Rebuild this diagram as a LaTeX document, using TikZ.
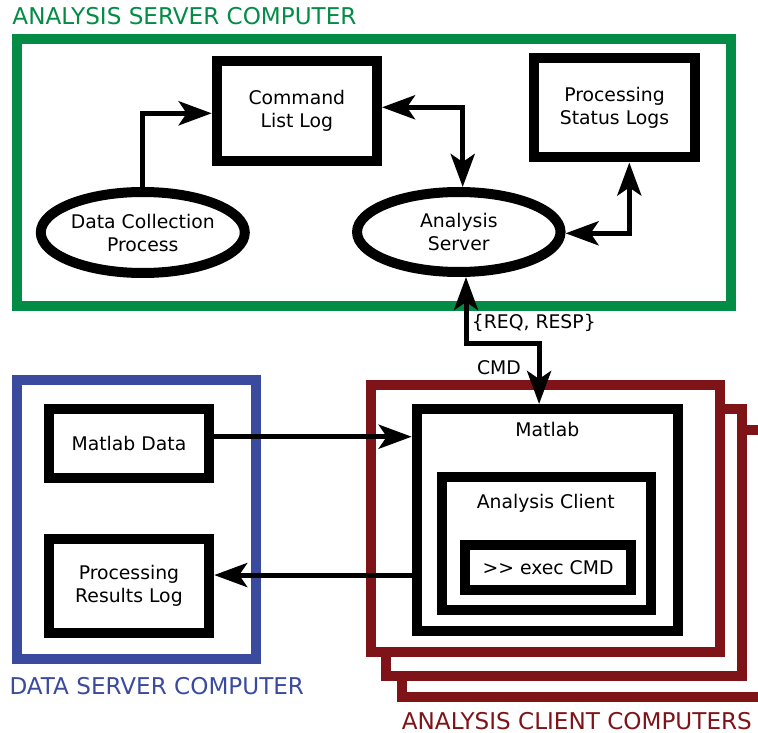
\documentclass[tikz,border=0pt]{standalone}
\usepackage{fontspec}
\setmainfont{DejaVu Sans}
\usetikzlibrary{arrows.meta,shapes.geometric}
\definecolor{srvgreen}{RGB}{3,140,69}
\definecolor{dsblue}{RGB}{58,74,158}
\definecolor{clred}{RGB}{127,20,24}
\tikzset{
  tipshape/.tip={Stealth[length=33pt,width=24pt,inset=8pt]},
}
\begin{document}
\begin{tikzpicture}[x=1pt,y=-1pt,
  box/.style={draw, line width=10pt, rectangle, inner sep=0pt, align=center,
    font=\fontsize{18.8}{23}\selectfont, fill=white},
  oval/.style={draw, line width=10pt, ellipse, inner sep=0pt, align=center,
    font=\fontsize{18.8}{23}\selectfont, fill=white},
  lbl/.style={inner sep=0pt, font=\fontsize{18.8}{23}\selectfont},
  ttl/.style={inner sep=0pt, anchor=west, font=\fontsize{23.1}{27}\selectfont},
  frm/.style={line width=10pt},
  arr/.style={line width=5pt, -{tipshape}},
  arrtwo/.style={line width=5pt, {tipshape}-{tipshape}},
]
\useasboundingbox (0,0) rectangle (758,733);
\clip (0,0) rectangle (758,733);

% frames
\draw[frm, srvgreen] (16.7,38.7) rectangle (731,306);
\draw[frm, dsblue] (17,380.3) rectangle (256.3,658.7);
\draw[frm, clred, fill=white] (401.7,430) rectangle (775,697.3);
\draw[frm, clred, fill=white] (385.7,409) rectangle (742.3,675.7);
\draw[frm, clred, fill=white] (371.3,385) rectangle (720,651.7);

% titles
\node[ttl, text=srvgreen] (t1) at (12.3,15.7) {ANALYSIS SERVER COMPUTER};
\node[ttl, text=dsblue] (t2) at (9.3,686) {DATA SERVER COMPUTER};
\node[ttl, text=clred] (t3) at (401.7,721.5) {ANALYSIS CLIENT COMPUTERS};

% server nodes
\node[box, minimum width=160.3pt, minimum height=100pt] (cmd) at (296.85,111) {Command\\List Log};
\node[box, minimum width=161pt, minimum height=99.2pt] (psl) at (614.5,107.9) {Processing\\Status Logs};
\node[oval, minimum width=204pt, minimum height=81pt] (dcp) at (142.8,232.5) {Data Collection\\Process};
\node[oval, minimum width=203.5pt, minimum height=80pt] (asv) at (458.8,232) {Analysis\\Server};

% data server nodes
\node[box, minimum width=160.5pt, minimum height=68.8pt] (md) at (128.95,443.1) {Matlab Data};
\node[box, minimum width=160.5pt, minimum height=94.3pt] (prl) at (128.95,585.85) {Processing\\Results Log};

% client nodes
\node[box, minimum width=260.8pt, minimum height=222pt] (mat) at (547.1,520) {};
\node[lbl] (matt) at (547.3,429.3) {Matlab};
\node[box, minimum width=208.5pt, minimum height=132.7pt] (acl) at (546.25,543.65) {};
\node[lbl] (aclt) at (545.7,503.3) {Analysis Client};
\node[box, minimum width=165.5pt, minimum height=45pt] (exe) at (548.05,567.8) {>{}> exec CMD};

% connectors
\draw[arr] (dcp.north) |- ([yshift=-2.3pt]cmd.west);
\draw[arrtwo] ([yshift=3.7pt]cmd.east) -| ([xshift=3.9pt]asv.north);
\draw[arrtwo] ([yshift=-1.3pt]asv.east) -| ([xshift=14.8pt]psl.south);
\coordinate (jn) at (502,343.3);
\draw[arrtwo] ([xshift=7.2pt]asv.south) |- (jn) -| ([xshift=-8pt]mat.north);
\node[lbl, anchor=west] (reqresp) at (471.7,323.3) {\{REQ, RESP\}};
\node[lbl] (cmdl) at (499,367.3) {CMD};
\draw[arr] ([yshift=6.4pt]md.east) -- ([yshift=6.4pt]md.east -| mat.west);
\draw[arr] ([yshift=10.8pt]prl.east -| mat.west) -- ([yshift=10.8pt]prl.east);
\end{tikzpicture}
\end{document}
